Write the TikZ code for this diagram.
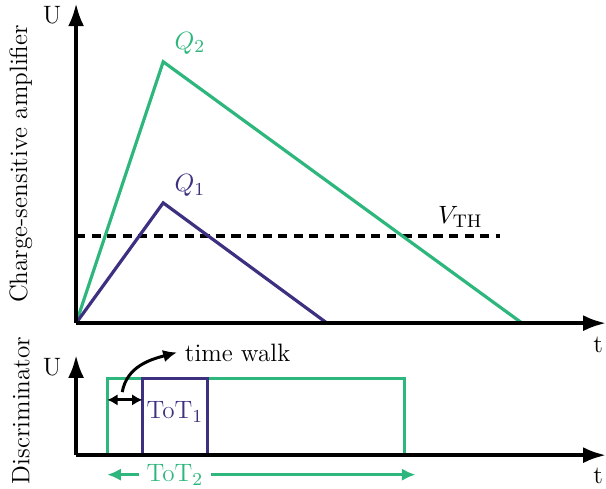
\documentclass[tikz,border=0pt]{standalone}
\usetikzlibrary{arrows.meta}
\definecolor{qgreen}{RGB}{46,183,125}
\definecolor{qpurple}{RGB}{62,48,128}
\begin{document}
\begin{tikzpicture}[
        font=\fontsize{11}{13}\selectfont,
        axis/.style={line width=1.6pt, -{Latex[length=10pt,width=7pt]}},
        signal/.style={line width=1.4pt},
        small tip/.style={-{Latex[length=6pt,width=5.5pt]}},
    ]
        \useasboundingbox (-1.17,-2.55) rectangle (8.15,4.97);

        % Upper panel: amplifier output
        \coordinate (O1) at (0,0);
        \coordinate (Y1) at (0,4.92);
        \coordinate (X1) at (8.15,0);
        \node (u1) at (-0.37,4.74) {U};
        \node (t1) at (8.03,-0.34) {t};
        \node[rotate=90] (amp) at (-0.85,2.45) {Charge-sensitive amplifier};

        % Threshold
        \coordinate (th0) at (0,1.34);
        \coordinate (th1) at (6.52,1.34);
        \draw[line width=1.5pt, dash pattern=on 4pt off 2.8pt] (th0) -- (th1);
        \node (vth) at (5.91,1.63) {$V_{\mathrm{TH}}$};

        % Pulses
        \coordinate (P2) at (1.34,4.02);
        \coordinate (E2) at (6.86,0);
        \coordinate (P1) at (1.34,1.85);
        \coordinate (E1) at (3.86,0);
        \draw[signal, qgreen] (O1) -- (P2) -- (E2);
        \draw[signal, qpurple] (O1) -- (P1) -- (E1);
        \node[qgreen] (q2) at (1.75,4.31) {$Q_2$};
        \node[qpurple] (q1) at (1.75,2.12) {$Q_1$};

        \draw[axis] (O1) -- (Y1);
        \draw[axis] (O1) -- (X1);

        % Lower panel: discriminator output
        \coordinate (O2) at (0,-2.03);
        \coordinate (Y2) at (0,-0.49);
        \coordinate (X2) at (8.15,-2.03);
        \coordinate (top) at (0,-0.85);
        \node (u2) at (-0.37,-0.68) {U};
        \node (t2) at (8.03,-2.35) {t};
        \node[rotate=90] (disc) at (-0.85,-1.34) {Discriminator};

        \coordinate (g0) at (0.48,-2.03);
        \coordinate (g1) at (5.05,-2.03);
        \coordinate (p0) at (1.02,-2.03);
        \coordinate (p1) at (2.02,-2.03);
        \draw[signal, qgreen] (g0) -- (g0 |- top) -- (g1 |- top) -- (g1);
        \draw[signal, qpurple] (p0) -- (p0 |- top) -- (p1 |- top) -- (p1);
        \node[qpurple] (tot1) at (1.52,-1.37) {ToT$_1$};

        \draw[axis] (O2) -- (Y2);
        \draw[axis] (O2) -- (X2);

        % Time walk
        \coordinate (tw) at (0,-1.18);
        \draw[line width=1.3pt, {Latex[length=4.5pt,width=5pt]}-{Latex[length=4.5pt,width=5pt]}] (g0 |- tw) -- (p0 |- tw);
        \coordinate (tws) at (0.71,-1.06);
        \node[anchor=west] (walk) at (1.55,-0.45) {time walk};
        \draw[line width=1.3pt, small tip] (tws) to[out=80,in=195] (walk.west);

        % ToT of the larger pulse
        \node[qgreen] (tot2) at (1.52,-2.33) {ToT$_2$};
        \coordinate (a0) at (0.48,-2.33);
        \coordinate (a1) at (5.22,-2.33);
        \draw[signal, qgreen, small tip] (tot2) -- (a0);
        \draw[signal, qgreen, small tip] (tot2) -- (a1);
    \end{tikzpicture}
\end{document}
